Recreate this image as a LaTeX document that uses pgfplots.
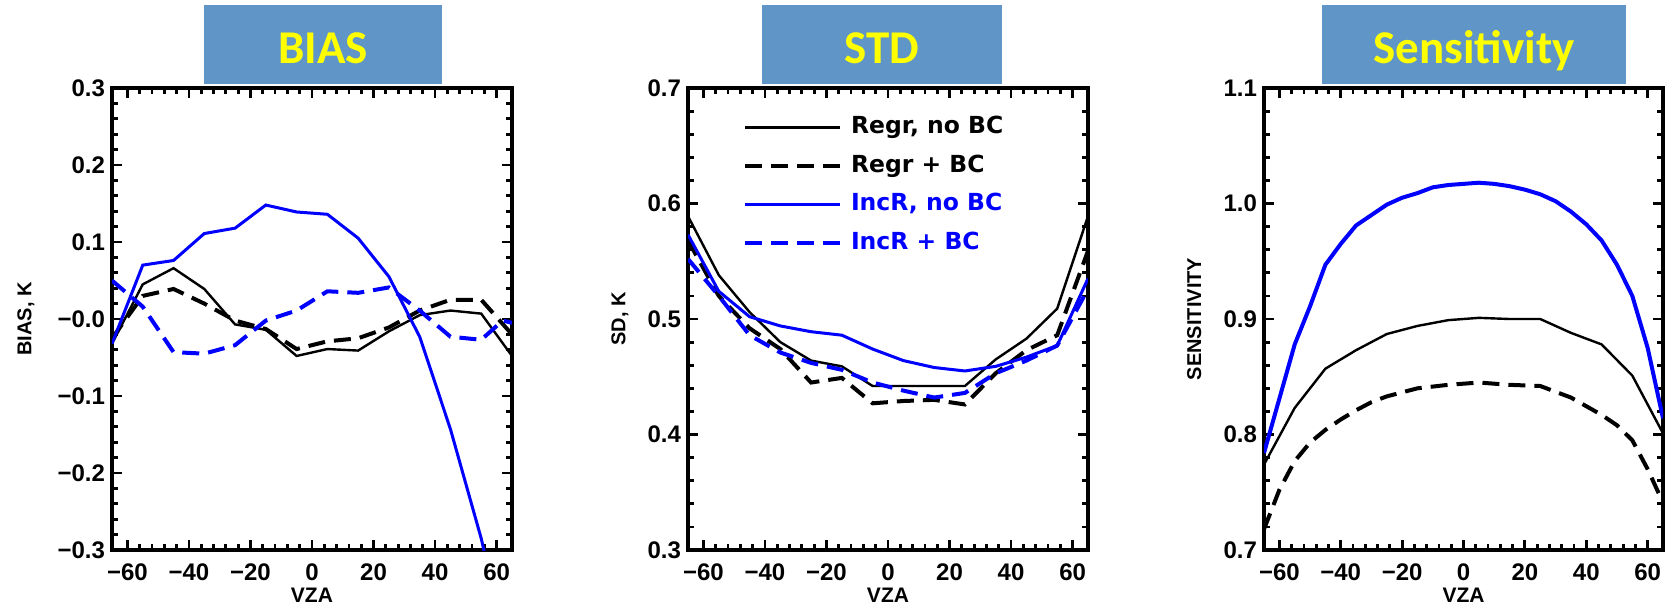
\documentclass[border=0pt]{standalone}
\usepackage{pgfplots}
\pgfplotsset{compat=1.18}
\usepackage{fontspec}
\setmainfont{Liberation Sans}
\newfontfamily\titlefont{Carlito}
\newfontfamily\legfont{DejaVu Sans}
\definecolor{boxblue}{RGB}{96,149,200}
\definecolor{ttl}{RGB}{255,255,0}
\definecolor{pblue}{RGB}{0,0,255}

\pgfplotsset{
 idl/.style={
  scale only axis, width=200pt, height=231pt,
  anchor=south west,
  xmin=-65, xmax=65,
  xtick={-60,-40,-20,0,20,40,60},
  xticklabels={−60,−40,−20,0,20,40,60},
  minor x tick num=4, minor y tick num=4,
  xtick pos=both, ytick pos=both, xtick align=inside, ytick align=inside,
  major tick length=5pt, minor tick length=2.8pt,
  xtick style={black, line width=1.4pt},
  ytick style={black, line width=1.4pt},
  axis line style={line width=2pt},
  ticklabel style={font=\fontsize{12}{14}\selectfont\bfseries},
  xticklabel style={yshift=-3.5pt},
  xlabel={VZA},
  xlabel style={at={(axis description cs:0.5,0)}, anchor=north, yshift=-19pt, inner sep=0pt, font=\fontsize{10.5}{12}\selectfont\bfseries},
  ylabel style={anchor=center, font=\fontsize{10}{12}\selectfont\bfseries},
 },
 regr/.style={black, line width=1.2pt},
 regrbc/.style={black, line width=2pt, dash pattern=on 8.5pt off 4.5pt},
 incr/.style={pblue, line width=1.5pt},
 incrbc/.style={pblue, line width=2pt, dash pattern=on 8.5pt off 4.5pt},
}

\begin{document}
\begin{tikzpicture}
\path[use as bounding box] (0,0) rectangle (835.5pt,303.5pt);

% title boxes
\fill[boxblue] (102pt,261.5pt) rectangle (221pt,301pt);
\fill[boxblue] (381pt,261.5pt) rectangle (501pt,301pt);
\fill[boxblue] (661pt,261.5pt) rectangle (813pt,301pt);
\node[anchor=base, text=ttl, inner sep=0pt, font=\titlefont\bfseries\fontsize{23.5}{28}\selectfont] at (161.5pt,272pt) {BIAS};
\node[anchor=base, text=ttl, inner sep=0pt, font=\titlefont\bfseries\fontsize{23.5}{28}\selectfont] at (441pt,272pt) {STD};
\node[anchor=base, text=ttl, inner sep=0pt, font=\titlefont\bfseries\fontsize{23.5}{28}\selectfont] at (737pt,272pt) {Sensitivity};

% ---------- BIAS ----------
\begin{axis}[idl, at={(56pt,28.5pt)},
  ymin=-0.3, ymax=0.3,
  ytick={-0.3,-0.2,-0.1,0,0.1,0.2,0.3},
  yticklabels={−0.3,−0.2,−0.1,−0.0,0.1,0.2,0.3},
  ylabel={BIAS, K},
  ylabel style={at={(axis description cs:-0.215,0.5)}},
]
\addplot[regr] coordinates {(-65,-0.032) (-55,0.045) (-45,0.066) (-35,0.039) (-25,-0.007) (-15,-0.014) (-5,-0.048) (5,-0.039) (15,-0.041) (25,-0.016) (35,0.005) (45,0.011) (55,0.007) (65,-0.048)};
\addplot[regrbc] coordinates {(-65,-0.025) (-55,0.030) (-45,0.039) (-35,0.020) (-25,-0.002) (-15,-0.013) (-5,-0.039) (5,-0.029) (15,-0.025) (25,-0.011) (35,0.011) (45,0.025) (55,0.025) (65,-0.020)};
\addplot[incr] coordinates {(-65,-0.032) (-55,0.070) (-45,0.076) (-35,0.111) (-25,0.118) (-15,0.148) (-5,0.139) (5,0.136) (15,0.105) (25,0.055) (35,-0.023) (45,-0.143) (55,-0.285) (65,-0.46)};
\addplot[incrbc] coordinates {(-65,0.050) (-55,0.016) (-45,-0.043) (-35,-0.045) (-25,-0.034) (-15,-0.002) (-5,0.011) (5,0.036) (15,0.034) (25,0.041) (35,0.011) (45,-0.023) (55,-0.027) (62,-0.002) (65,-0.005)};
\end{axis}

% ---------- STD ----------
\begin{axis}[idl, at={(344pt,28.5pt)},
  ymin=0.3, ymax=0.7,
  ytick={0.3,0.4,0.5,0.6,0.7},
  yticklabels={0.3,0.4,0.5,0.6,0.7},
  ylabel={SD, K},
  ylabel style={at={(axis description cs:-0.17,0.5)}},
  legend style={at={(axis description cs:0,1)}, anchor=north west, xshift=27.5pt, yshift=-13.8pt,
    draw=none, fill=none, inner sep=0pt, outer sep=0pt, row sep=7.3pt,
    font=\legfont\bfseries\fontsize{11.75}{14}\selectfont,
    nodes={inner sep=0pt, text height=9pt, text depth=3pt}},
  legend cell align=left,
  legend image code/.code={\draw[#1] (0pt,0pt) -- (47.5pt,0pt);},
  /tikz/every odd column/.append style={column sep=4.5pt},
]
\addplot[regr] coordinates {(-65,0.589) (-55,0.538) (-45,0.506) (-35,0.480) (-25,0.464) (-15,0.459) (-5,0.442) (5,0.442) (15,0.442) (25,0.442) (35,0.465) (45,0.483) (55,0.509) (65,0.589)};
\addlegendentry{Regr, no BC}
\addplot[regrbc] coordinates {(-65,0.568) (-55,0.520) (-45,0.492) (-35,0.474) (-25,0.445) (-15,0.449) (-5,0.427) (5,0.429) (15,0.430) (25,0.426) (35,0.453) (45,0.473) (55,0.486) (65,0.559)};
\addlegendentry{Regr + BC}
\addplot[incr] coordinates {(-65,0.573) (-55,0.524) (-45,0.502) (-35,0.494) (-25,0.489) (-15,0.486) (-5,0.474) (5,0.464) (15,0.458) (25,0.455) (35,0.459) (45,0.467) (55,0.477) (65,0.535)};
\addlegendentry{\textcolor{pblue}{IncR, no BC}}
\addplot[incrbc] coordinates {(-65,0.552) (-55,0.520) (-45,0.486) (-35,0.471) (-25,0.462) (-15,0.456) (-5,0.445) (5,0.438) (15,0.432) (25,0.436) (35,0.453) (45,0.464) (55,0.477) (65,0.526)};
\addlegendentry{\textcolor{pblue}{IncR + BC}}
\end{axis}

% ---------- Sensitivity ----------
\begin{axis}[idl, at={(632pt,28.5pt)}, width=199.5pt,
  ymin=0.7, ymax=1.1,
  ytick={0.7,0.8,0.9,1.0,1.1},
  yticklabels={0.7,0.8,0.9,1.0,1.1},
  ylabel={SENSITIVITY},
  ylabel style={at={(axis description cs:-0.175,0.5)}},
]
\addplot[regr] coordinates {(-65,0.774) (-55,0.823) (-45,0.857) (-35,0.873) (-25,0.887) (-15,0.894) (-5,0.899) (5,0.901) (15,0.900) (25,0.900) (35,0.888) (45,0.878) (55,0.851) (65,0.801)};
\addplot[regrbc] coordinates {(-65,0.718) (-60,0.752) (-55,0.777) (-50,0.793) (-45,0.804) (-40,0.813) (-35,0.821) (-30,0.828) (-25,0.833) (-15,0.840) (-5,0.843) (5,0.845) (15,0.843) (25,0.842) (35,0.832) (45,0.817) (50,0.808) (55,0.795) (60,0.770) (65,0.741)};
\addplot[incr, line width=2pt] coordinates {(-65,0.784) (-60,0.831) (-55,0.878) (-50,0.911) (-45,0.947) (-40,0.965) (-35,0.981) (-30,0.990) (-25,0.999) (-20,1.005) (-15,1.009) (-10,1.014) (-5,1.016) (0,1.017) (5,1.018) (10,1.017) (15,1.015) (20,1.012) (25,1.008) (30,1.002) (35,0.993) (40,0.982) (45,0.968) (50,0.947) (55,0.920) (60,0.875) (65,0.814)};
\end{axis}
\end{tikzpicture}
\end{document}
